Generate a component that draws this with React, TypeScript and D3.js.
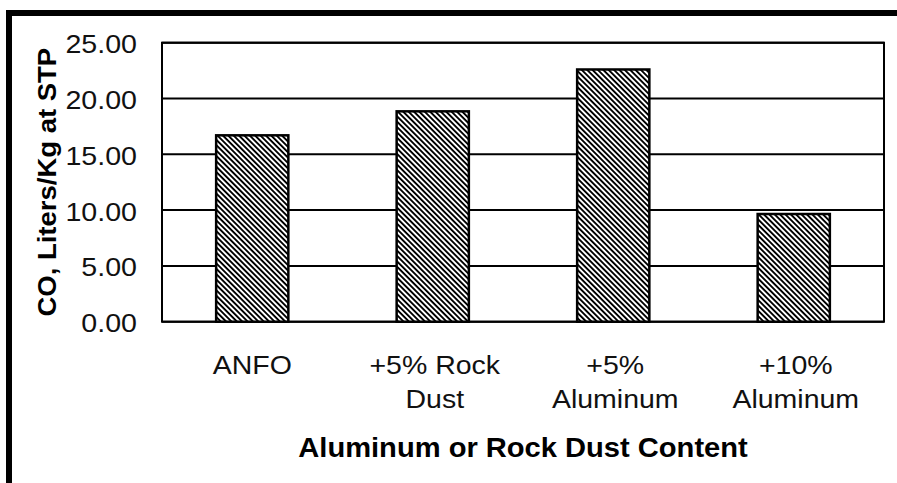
import React from "react";
import * as d3 from "d3";

const categories: string[][] = [["ANFO"], ["+5% Rock", "Dust"], ["+5%", "Aluminum"], ["+10%", "Aluminum"]];
const values: number[] = [16.7, 18.85, 22.6, 9.65];
const yTicks: number[] = [0, 5, 10, 15, 20, 25];
const yTitle = "CO, Liters/Kg at STP";
const xTitle = "Aluminum or Rock Dust Content";

const W = 897;
const H = 483;
const plot = { left: 162, right: 884, top: 42.7, bottom: 321.7 };
const FONT = "'Liberation Sans', Arial, Helvetica, sans-serif";

export default function App() {
  const keys = categories.map((c) => c.join(" "));
  const x = d3.scaleBand<string>().domain(keys).range([plot.left, plot.right]).paddingInner(0.6).paddingOuter(0.3);
  const y = d3.scaleLinear().domain([0, 25]).range([plot.bottom, plot.top]);

  return (
    <div style={{ position: "fixed", left: 0, top: 0, width: W, height: H, background: "#fff" }}>
      <svg width={W} height={H} style={{ display: "block" }}>
        <defs>
          <pattern id="hatch" patternUnits="userSpaceOnUse" width={3.8} height={3.8} patternTransform="rotate(-45)">
            <rect x={0} y={0} width={3.8} height={3.8} fill="#fff" />
            <rect x={0} y={0} width={1.9} height={3.8} fill="#000" />
          </pattern>
        </defs>
        <rect x={0} y={0} width={W} height={H} fill="#fff" />
        {/* outer frame */}
        <rect x={6} y={10} width={W - 6} height={6} fill="#000" />
        <rect x={6} y={10} width={6} height={H - 10} fill="#000" />

        {/* gridlines */}
        {yTicks.map((t) => (
          <line key={t} x1={plot.left} x2={plot.right} y1={y(t)} y2={y(t)} stroke="#000" strokeWidth={2} />
        ))}
        {/* plot border */}
        <rect
          x={plot.left}
          y={plot.top}
          width={plot.right - plot.left}
          height={plot.bottom - plot.top}
          fill="none"
          stroke="#000"
          strokeWidth={2}
        />

        {/* bars */}
        {values.map((v, i) => (
          <rect
            key={keys[i]}
            x={x(keys[i])!}
            y={y(v)}
            width={x.bandwidth()}
            height={y(0) - y(v)}
            fill="url(#hatch)"
            stroke="#000"
            strokeWidth={2.5}
          />
        ))}

        {/* y tick labels */}
        {yTicks.map((t) => (
          <text
            key={t}
            transform={`translate(137,${y(t) + 10.5}) scale(1.1,1)`}
            textAnchor="end"
            fontFamily={FONT}
            fontSize={26}
            fill="#111"
          >
            {d3.format(".2f")(t)}
          </text>
        ))}

        {/* category labels */}
        {categories.map((lines, i) => {
          const cx = x(keys[i])! + x.bandwidth() / 2;
          return lines.map((ln, j) => (
            <text
              key={keys[i] + j}
              transform={`translate(${cx + (lines.length > 1 ? 2 : 0)},${374 + j * 34.3}) scale(1.14,1)`}
              textAnchor="middle"
              fontFamily={FONT}
              fontSize={25}
              fill="#111"
            >
              {ln}
            </text>
          ));
        })}

        {/* x title */}
        <text
          transform={`translate(${(plot.left + plot.right) / 2},457) scale(1.04,1)`}
          textAnchor="middle"
          fontFamily={FONT}
          fontSize={28}
          fontWeight="bold"
          fill="#000"
        >
          {xTitle}
        </text>

        {/* y title */}
        <text
          transform={`translate(56,${(plot.top + plot.bottom) / 2}) rotate(-90) scale(1.1,1)`}
          textAnchor="middle"
          fontFamily={FONT}
          fontSize={25}
          fontWeight="bold"
          fill="#000"
        >
          {yTitle}
        </text>
      </svg>
    </div>
  );
}
